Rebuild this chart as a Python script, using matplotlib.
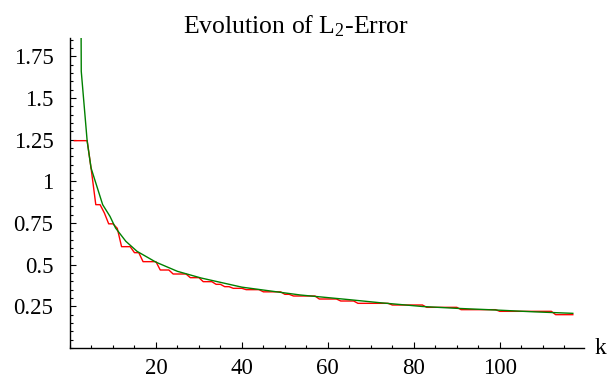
import numpy as np
import matplotlib.pyplot as plt
from matplotlib.ticker import MultipleLocator, FixedLocator

plt.rcParams['font.family'] = ['Liberation Serif', 'DejaVu Serif']
plt.rcParams['mathtext.fontset'] = 'custom'
plt.rcParams['mathtext.rm'] = 'Liberation Serif'

# red: error per iteration k (runs of equal values)
red_runs = [
    (1, 4, 1.244), (5, 5, 1.06), (6, 7, 0.86), (8, 8, 0.81), (9, 10, 0.745),
    (11, 11, 0.718), (12, 14, 0.608), (15, 16, 0.572), (17, 20, 0.518),
    (21, 23, 0.468), (24, 27, 0.444), (28, 30, 0.422), (31, 33, 0.398),
    (34, 35, 0.382), (36, 37, 0.368), (38, 40, 0.358), (41, 44, 0.35),
    (45, 49, 0.337), (50, 51, 0.322), (52, 57, 0.312), (58, 62, 0.294),
    (63, 66, 0.282), (67, 74, 0.268), (75, 82, 0.258), (83, 90, 0.244),
    (91, 99, 0.23), (100, 112, 0.22), (113, 117, 0.2),
]
red_k = []
red_v = []
for k0, k1, v in red_runs:
    for k in range(k0, k1 + 1):
        red_k.append(k)
        red_v.append(v)

# green: smooth reference curve, sampled points
green_k = [2.58, 2.62, 4.0, 4.9, 7.6, 9.3, 10.6, 13, 15.6, 20, 25, 30.5,
           40, 53.6, 65, 72, 82, 90, 99, 108, 117]
green_v = [1.90, 1.66, 1.24, 1.08, 0.86, 0.79, 0.72, 0.64, 0.58, 0.515,
           0.46, 0.42, 0.365, 0.318, 0.29, 0.272, 0.249, 0.238, 0.228,
           0.217, 0.208]

ytick_vals = [0.25, 0.5, 0.75, 1.0, 1.25, 1.5, 1.75]
ytick_labels = ['0.25', '0.5', '0.75', '1', '1.25', '1.5', '1.75']
xtick_vals = [20, 40, 60, 80, 100]

fig = plt.figure(figsize=(6.1, 3.8), dpi=100)
ax = fig.add_axes([70 / 610, 32 / 380, 514 / 610, 310 / 380])

ax.plot(red_k, red_v, color='#ff0000', lw=1.0)
ax.plot(green_k, green_v, color='#008000', lw=1.0)

ax.set_xlim(0, 119.6)
ax.set_ylim(0, 1.86)

for s in ['top', 'right']:
    ax.spines[s].set_visible(False)
for s in ['left', 'bottom']:
    ax.spines[s].set_linewidth(1.0)

ax.xaxis.set_major_locator(FixedLocator(xtick_vals))
ax.xaxis.set_minor_locator(MultipleLocator(5))
ax.yaxis.set_major_locator(FixedLocator(ytick_vals))
ax.set_yticklabels(ytick_labels)
ax.yaxis.set_minor_locator(MultipleLocator(0.05))

ax.tick_params(which='both', direction='in', labelsize=16.5, width=0.8)
ax.tick_params(which='major', length=4)
ax.tick_params(which='minor', length=2)
ax.tick_params(axis='y', which='major', pad=12)
ax.tick_params(axis='x', which='major', pad=7)

ax.text(1.02, 0.0, 'k', transform=ax.transAxes, fontsize=17,
        va='center', ha='left')

fig.text(296 / 610, 1 - 33 / 380, 'Evolution of $\\mathregular{L_2}$-Error',
         ha='center', va='baseline', fontsize=18.5)

fig.savefig('out.png', dpi=100)
